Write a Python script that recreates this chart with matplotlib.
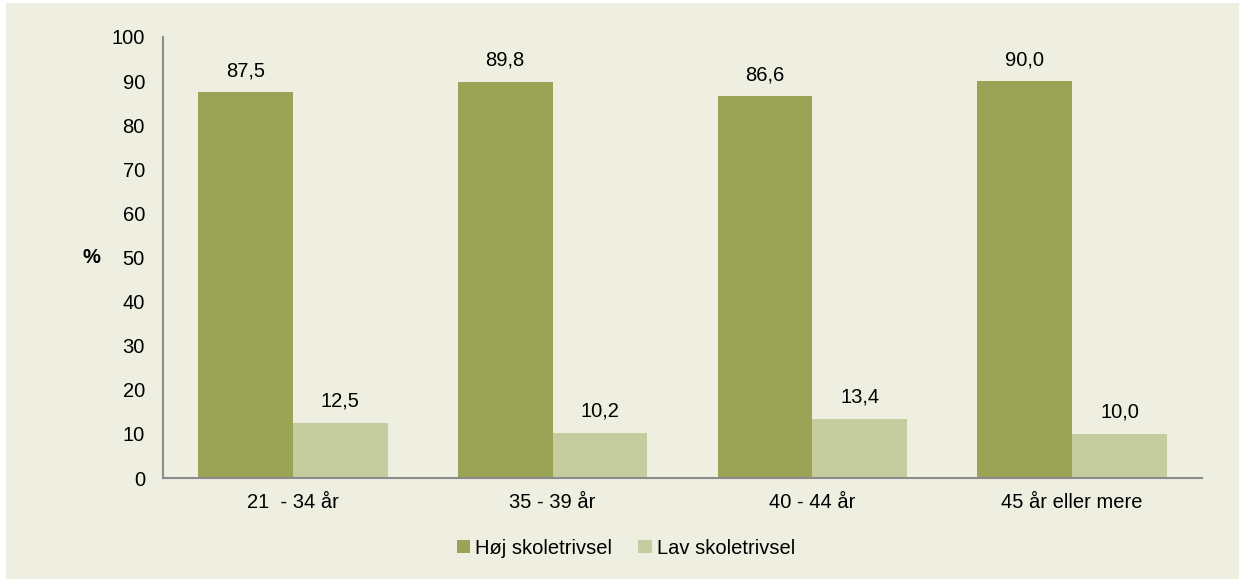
import numpy as np
import matplotlib
matplotlib.use("Agg")
import matplotlib.pyplot as plt
from matplotlib.patches import Rectangle

plt.rcParams["font.family"] = ["Liberation Sans", "DejaVu Sans"]

categories = ["21  - 34 år", "35 - 39 år", "40 - 44 år", "45 år eller mere"]
series_names = ["Høj skoletrivsel", "Lav skoletrivsel"]
hoej = [87.5, 89.8, 86.6, 90.0]
lav = [12.5, 10.2, 13.4, 10.0]

BG = "#eeefe0"
DARK = "#9ba357"
LIGHT = "#c5cc9e"
SPINE = "#8c8c8c"
FS = 14.5

fig = plt.figure(figsize=(12.39, 5.79), dpi=100, facecolor="white")
# beige panel behind everything
panel = Rectangle((6 / 1239, 0), 1, 1 - 3 / 579, transform=fig.transFigure,
                  facecolor=BG, edgecolor="none", zorder=-10)
fig.add_artist(panel)

ax = fig.add_axes([163 / 1239, 1 - 478 / 579, (1202 - 163) / 1239, (478 - 37) / 579])
ax.set_zorder(5)
ax.set_facecolor(BG)

x = np.arange(len(categories))
w = 0.365
b1 = ax.bar(x - w / 2, hoej, w, color=DARK, label=series_names[0])
b2 = ax.bar(x + w / 2, lav, w, color=LIGHT, label=series_names[1])

for bars, vals in ((b1, hoej), (b2, lav)):
    for r, v in zip(bars, vals):
        ax.annotate(f"{v:.1f}".replace(".", ","), (r.get_x() + r.get_width() / 2, v),
                    xytext=(0, 15.5), textcoords="offset points",
                    ha="center", va="center", fontsize=FS)

ax.set_xlim(-0.5, len(categories) - 0.5)
ax.set_ylim(0, 100)
ax.set_yticks(range(0, 101, 10))
ax.set_xticks(x)
ax.set_xticklabels(categories)
ax.tick_params(axis="both", length=0, labelsize=FS)
ax.tick_params(axis="y", pad=13)
ax.tick_params(axis="x", pad=11)

for side in ("top", "right"):
    ax.spines[side].set_visible(False)
for side in ("left", "bottom"):
    ax.spines[side].set_color(SPINE)
    ax.spines[side].set_linewidth(1.5)

ax.text(-0.0693, 50, "%", transform=ax.get_yaxis_transform(), ha="center", va="center",
        fontsize=FS, fontweight="bold")

fig.legend(handles=[b1, b2], labels=series_names, loc="center",
           bbox_to_anchor=(626 / 1239, 1 - 548 / 579), ncol=2, frameon=False,
           fontsize=FS, handlelength=0.65, handleheight=0.65, handletextpad=0.25,
           columnspacing=1.3)

fig.savefig("out.png", dpi=100, facecolor=fig.get_facecolor())
